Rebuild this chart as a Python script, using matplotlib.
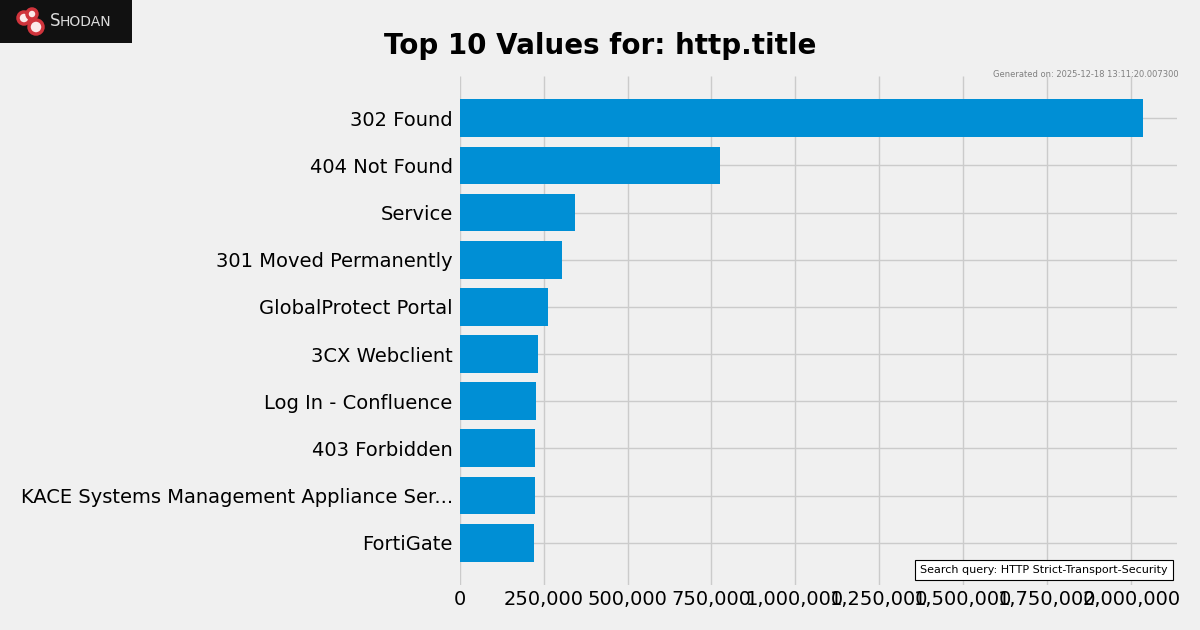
import matplotlib
matplotlib.use('Agg')
import matplotlib.pyplot as plt
from matplotlib.patches import Rectangle, Circle
from matplotlib.ticker import FuncFormatter

titles = ['302 Found', '404 Not Found', 'Service', '301 Moved Permanently',
          'GlobalProtect Portal', '3CX Webclient', 'Log In - Confluence',
          '403 Forbidden', 'KACE Systems Management Appliance Ser...', 'FortiGate']
counts = [2035000, 774000, 343000, 306000, 264000, 234000, 228000, 225000, 224000, 222000]

plt.style.use('fivethirtyeight')
fig = plt.figure(figsize=(12, 6.3), dpi=100)
fig.patch.set_facecolor('#f0f0f0')
ax = fig.add_axes([0.383, 0.072, 0.598, 0.807])
ax.set_facecolor('#f0f0f0')

ax.barh(titles, counts, color='#008fd5', height=0.8)
ax.invert_yaxis()
ax.xaxis.set_major_formatter(FuncFormatter(lambda v, p: f'{int(v):,}'))
ax.tick_params(axis='both', labelsize=14, length=0)
ax.tick_params(axis='y', pad=5)
ax.grid(True, color='#cbcbcb', linewidth=1)
for s in ax.spines.values():
    s.set_visible(False)

fig.text(0.5, 0.927, 'Top 10 Values for: http.title', ha='center', va='center',
         fontsize=20, fontweight='bold')
fig.text(0.982, 0.882, 'Generated on: 2025-12-18 13:11:20.007300', ha='right',
         va='center', fontsize=6, color='#808080')
ax.text(0.987, 0.018, 'Search query: HTTP Strict-Transport-Security', transform=ax.transAxes,
        ha='right', va='bottom', fontsize=8,
        bbox=dict(facecolor='white', edgecolor='black', linewidth=0.8, boxstyle='square,pad=0.45'))

# logo
fig.patches.append(Rectangle((0, 1 - 43 / 630), 132 / 1200, 43 / 630, transform=fig.transFigure,
                             facecolor='#111111', edgecolor='none', zorder=5))
for cx, cy, r in [(24, 18, 6), (32, 14, 5), (36, 27, 7)]:
    fig.patches.append(Circle((cx, 630 - cy), r, transform=None, facecolor='#fbeaea',
                              edgecolor='#d0343c', linewidth=2.5, zorder=6))
fig.text(50 / 1200, 1 - 21 / 630, 'S', fontsize=12, color='#dddddd', va='center', zorder=7)
fig.text(60 / 1200, 1 - 21.5 / 630, 'HODAN', fontsize=10, color='#dddddd', va='center', zorder=7)

fig.savefig('out.png', dpi=100, facecolor=fig.get_facecolor())
